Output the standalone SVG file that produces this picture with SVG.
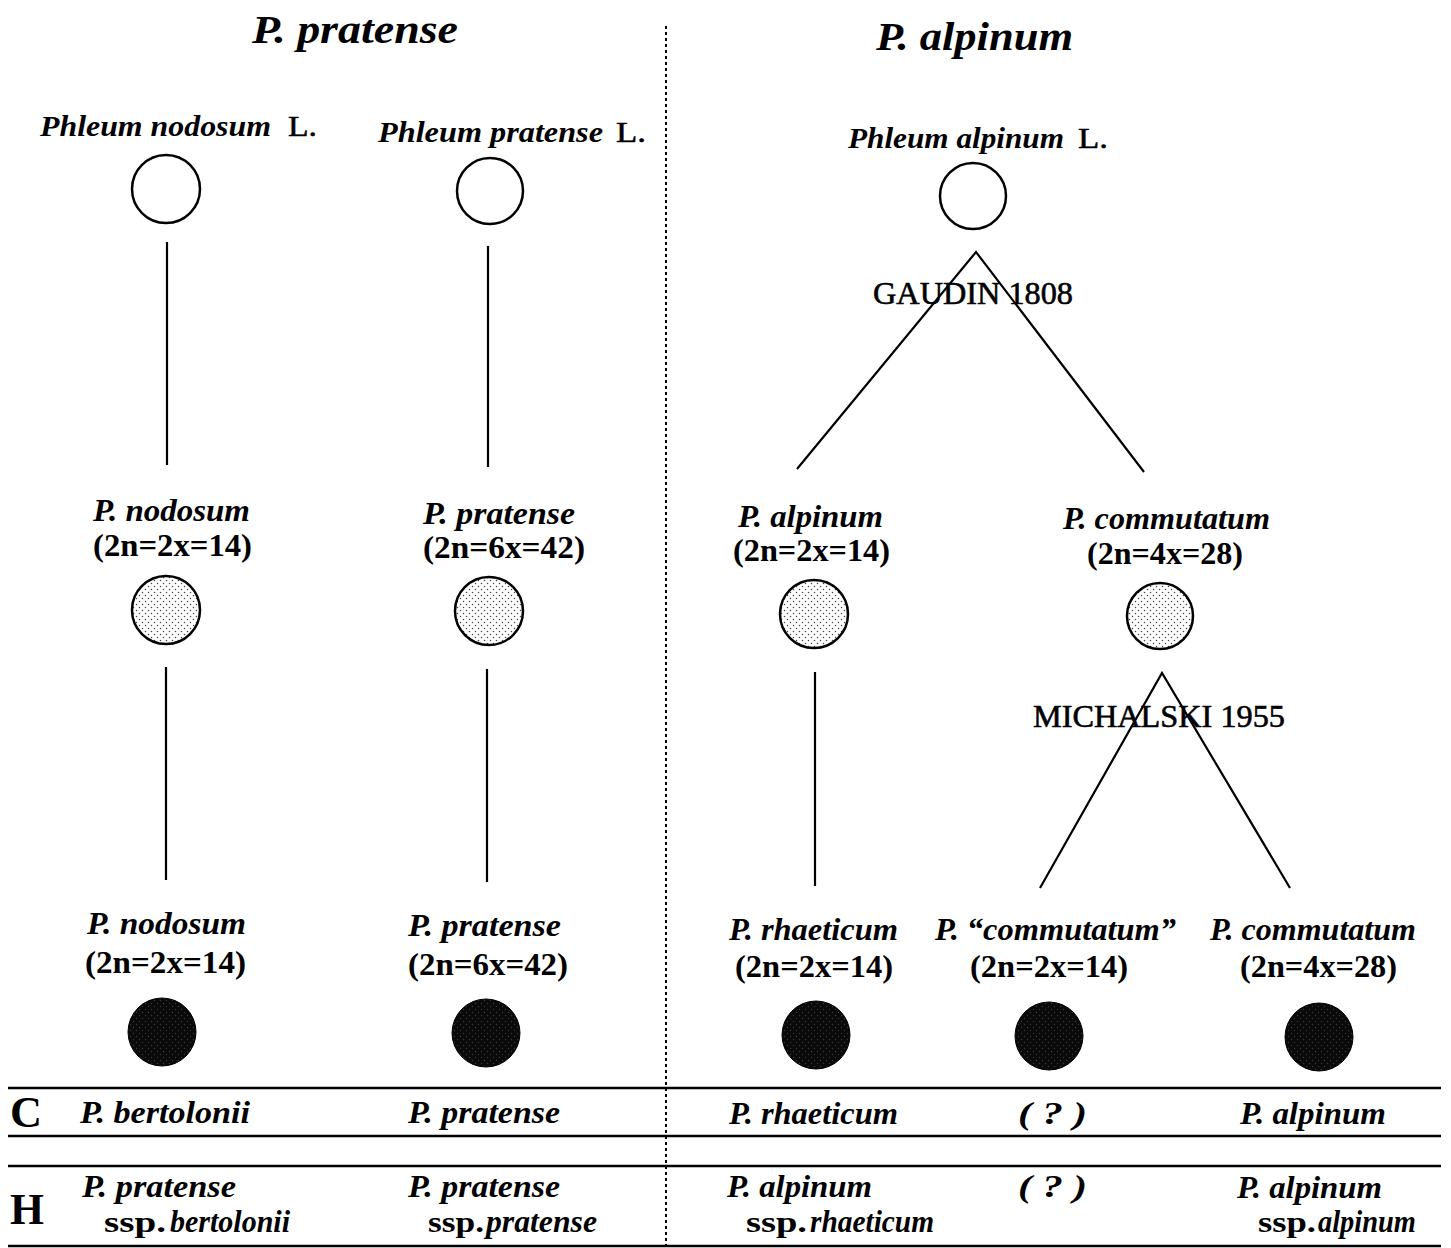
<svg xmlns="http://www.w3.org/2000/svg" width="1451" height="1248" viewBox="0 0 1451 1248">
<defs>
<pattern id="dots" width="6" height="6" patternUnits="userSpaceOnUse">
<rect width="6" height="6" fill="#fff"/>
<circle cx="1.5" cy="1.5" r="0.75" fill="#444"/>
<circle cx="4.5" cy="4.5" r="0.75" fill="#444"/>
</pattern>
<pattern id="dark" width="6" height="6" patternUnits="userSpaceOnUse">
<rect width="6" height="6" fill="#0a0a0a"/>
<circle cx="1.5" cy="1.5" r="0.7" fill="#3a3a3a"/>
<circle cx="4.5" cy="4.5" r="0.7" fill="#3a3a3a"/>
</pattern>
</defs>
<style>
text{font-family:"Liberation Serif",serif;fill:#000}
.ttl{font-style:italic;font-weight:bold;font-size:40px}
.ph{font-style:italic;font-weight:bold;font-size:30px}
.l{font-size:30px;stroke:#000;stroke-width:0.5}
.sp{font-style:italic;font-weight:bold;font-size:31px}
.cn{font-weight:bold;font-size:31px}
.au{font-size:32px;stroke:#000;stroke-width:0.6}
.rw{font-weight:bold;font-size:44px}
.ssp{font-weight:bold;font-size:30px}
.open{fill:#fff;stroke:#000;stroke-width:2.5}
.mid{fill:url(#dots);stroke:#000;stroke-width:2.5}
.blk{fill:url(#dark);stroke:#000;stroke-width:1}
.ln{stroke:#000;stroke-width:2.2;fill:none}
.tb{stroke:#000;stroke-width:2.5}
.dv{stroke:#000;stroke-width:2;stroke-dasharray:3 3}
</style>
<rect width="1451" height="1248" fill="#fff"/>

<g id="headers">
<text class="ttl" x="252" y="43" textLength="206" lengthAdjust="spacingAndGlyphs">P. pratense</text>
<text class="ttl" x="876" y="50" textLength="197" lengthAdjust="spacingAndGlyphs">P. alpinum</text>
</g>

<g id="divider"><line class="dv" x1="666" y1="26" x2="666" y2="1248"/></g>

<g id="connectors">
<line class="ln" x1="167" y1="242" x2="167" y2="465"/>
<line class="ln" x1="488" y1="246" x2="488" y2="467"/>
<polyline class="ln" points="797,469 976,252 1144,472"/>
<line class="ln" x1="166" y1="667" x2="166" y2="880"/>
<line class="ln" x1="487" y1="669" x2="487" y2="882"/>
<line class="ln" x1="815" y1="672" x2="815" y2="886"/>
<polyline class="ln" points="1040,888 1162,673 1290,888"/>
</g>

<g id="authors">
<text class="au" x="873" y="304" textLength="200" lengthAdjust="spacingAndGlyphs">GAUDIN 1808</text>
<text class="au" x="1033" y="727" textLength="252" lengthAdjust="spacingAndGlyphs">MICHALSKI 1955</text>
</g>

<g id="n-nodosum-top">
<text class="ph" x="40" y="136" textLength="231" lengthAdjust="spacingAndGlyphs">Phleum nodosum</text>
<text class="l" x="288" y="136" textLength="29" lengthAdjust="spacingAndGlyphs">L.</text>
<circle class="open" cx="166" cy="189" r="34"/>
</g>
<g id="n-pratense-top">
<text class="ph" x="378" y="142" textLength="225" lengthAdjust="spacingAndGlyphs">Phleum pratense</text>
<text class="l" x="616" y="142" textLength="30" lengthAdjust="spacingAndGlyphs">L.</text>
<circle class="open" cx="490" cy="191" r="33"/>
</g>
<g id="n-alpinum-top">
<text class="ph" x="848" y="148" textLength="216" lengthAdjust="spacingAndGlyphs">Phleum alpinum</text>
<text class="l" x="1078" y="148" textLength="30" lengthAdjust="spacingAndGlyphs">L.</text>
<circle class="open" cx="973" cy="196" r="33"/>
</g>

<g id="n-nodosum-mid">
<text class="sp" x="93" y="521" textLength="157" lengthAdjust="spacingAndGlyphs">P. nodosum</text>
<text class="cn" x="93" y="556" textLength="159" lengthAdjust="spacingAndGlyphs">(2n=2x=14)</text>
<circle class="mid" cx="166" cy="610" r="34"/>
</g>
<g id="n-pratense-mid">
<text class="sp" x="423" y="524" textLength="152" lengthAdjust="spacingAndGlyphs">P. pratense</text>
<text class="cn" x="423" y="558" textLength="162" lengthAdjust="spacingAndGlyphs">(2n=6x=42)</text>
<circle class="mid" cx="489" cy="611" r="34"/>
</g>
<g id="n-alpinum-mid">
<text class="sp" x="738" y="527" textLength="145" lengthAdjust="spacingAndGlyphs">P. alpinum</text>
<text class="cn" x="733" y="561" textLength="157" lengthAdjust="spacingAndGlyphs">(2n=2x=14)</text>
<circle class="mid" cx="814" cy="614" r="34"/>
</g>
<g id="n-commutatum-mid">
<text class="sp" x="1063" y="529" textLength="207" lengthAdjust="spacingAndGlyphs">P. commutatum</text>
<text class="cn" x="1087" y="564" textLength="156" lengthAdjust="spacingAndGlyphs">(2n=4x=28)</text>
<circle class="mid" cx="1160" cy="616" r="33"/>
</g>

<g id="n-nodosum-bot">
<text class="sp" x="87" y="934" textLength="159" lengthAdjust="spacingAndGlyphs">P. nodosum</text>
<text class="cn" x="85" y="973" textLength="161" lengthAdjust="spacingAndGlyphs">(2n=2x=14)</text>
<circle class="blk" cx="162" cy="1032" r="34"/>
</g>
<g id="n-pratense-bot">
<text class="sp" x="408" y="936" textLength="153" lengthAdjust="spacingAndGlyphs">P. pratense</text>
<text class="cn" x="408" y="975" textLength="160" lengthAdjust="spacingAndGlyphs">(2n=6x=42)</text>
<circle class="blk" cx="486" cy="1033" r="34"/>
</g>
<g id="n-rhaeticum-bot">
<text class="sp" x="729" y="940" textLength="169" lengthAdjust="spacingAndGlyphs">P. rhaeticum</text>
<text class="cn" x="735" y="977" textLength="158" lengthAdjust="spacingAndGlyphs">(2n=2x=14)</text>
<circle class="blk" cx="816" cy="1035" r="34"/>
</g>
<g id="n-commutatum-q-bot">
<text class="sp" x="935" y="940" textLength="241" lengthAdjust="spacingAndGlyphs">P. “commutatum”</text>
<text class="cn" x="970" y="977" textLength="158" lengthAdjust="spacingAndGlyphs">(2n=2x=14)</text>
<circle class="blk" cx="1049" cy="1036" r="34"/>
</g>
<g id="n-commutatum-bot">
<text class="sp" x="1210" y="940" textLength="206" lengthAdjust="spacingAndGlyphs">P. commutatum</text>
<text class="cn" x="1240" y="977" textLength="157" lengthAdjust="spacingAndGlyphs">(2n=4x=28)</text>
<circle class="blk" cx="1319" cy="1037" r="34"/>
</g>

<g id="table">
<line class="tb" x1="8" y1="1088" x2="1441" y2="1088"/>
<line class="tb" x1="8" y1="1136" x2="1441" y2="1136"/>
<line class="tb" x1="8" y1="1166" x2="1441" y2="1166"/>
<line class="tb" x1="8" y1="1246" x2="1441" y2="1246"/>
<text class="rw" x="10" y="1127" textLength="32" lengthAdjust="spacingAndGlyphs">C</text>
<text class="rw" x="10" y="1224" textLength="34" lengthAdjust="spacingAndGlyphs">H</text>
<text class="sp" x="80" y="1123" textLength="170" lengthAdjust="spacingAndGlyphs">P. bertolonii</text>
<text class="sp" x="408" y="1123" textLength="152" lengthAdjust="spacingAndGlyphs">P. pratense</text>
<text class="sp" x="729" y="1124" textLength="169" lengthAdjust="spacingAndGlyphs">P. rhaeticum</text>
<text class="sp" x="1018" y="1124" textLength="69" lengthAdjust="spacingAndGlyphs">( ? )</text>
<text class="sp" x="1240" y="1124" textLength="146" lengthAdjust="spacingAndGlyphs">P. alpinum</text>
<text class="sp" x="82" y="1197" textLength="154" lengthAdjust="spacingAndGlyphs">P. pratense</text>
<text class="sp" x="408" y="1197" textLength="152" lengthAdjust="spacingAndGlyphs">P. pratense</text>
<text class="sp" x="727" y="1197" textLength="145" lengthAdjust="spacingAndGlyphs">P. alpinum</text>
<text class="sp" x="1018" y="1197" textLength="69" lengthAdjust="spacingAndGlyphs">( ? )</text>
<text class="sp" x="1237" y="1198" textLength="145" lengthAdjust="spacingAndGlyphs">P. alpinum</text>
<text class="ssp" x="104" y="1232" textLength="62" lengthAdjust="spacingAndGlyphs">ssp.</text>
<text class="sp" x="170" y="1232" textLength="120" lengthAdjust="spacingAndGlyphs">bertolonii</text>
<text class="ssp" x="428" y="1232" textLength="56" lengthAdjust="spacingAndGlyphs">ssp.</text>
<text class="sp" x="486" y="1232" textLength="111" lengthAdjust="spacingAndGlyphs">pratense</text>
<text class="ssp" x="746" y="1232" textLength="61" lengthAdjust="spacingAndGlyphs">ssp.</text>
<text class="sp" x="810" y="1232" textLength="124" lengthAdjust="spacingAndGlyphs">rhaeticum</text>
<text class="ssp" x="1258" y="1232" textLength="58" lengthAdjust="spacingAndGlyphs">ssp.</text>
<text class="sp" x="1318" y="1232" textLength="98" lengthAdjust="spacingAndGlyphs">alpinum</text>
</g>
</svg>
